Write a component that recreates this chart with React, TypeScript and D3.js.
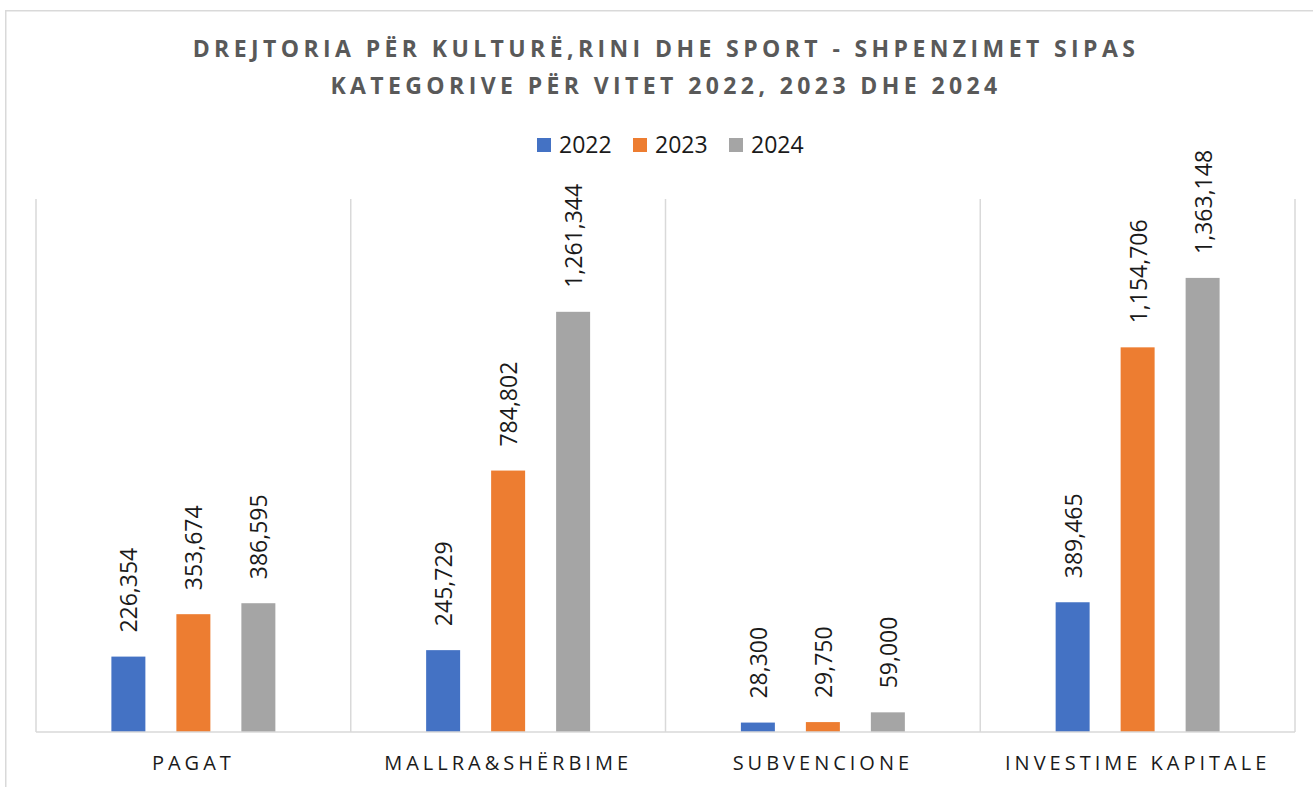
import React from "react";
import * as d3 from "d3";

const categories = ["PAGAT", "MALLRA&SHËRBIME", "SUBVENCIONE", "INVESTIME KAPITALE"];
const seriesNames = ["2022", "2023", "2024"];
const values2022 = [226354, 245729, 28300, 389465];
const values2023 = [353674, 784802, 29750, 1154706];
const values2024 = [386595, 1261344, 59000, 1363148];
const seriesColors = ["#4472C4", "#ED7D31", "#A5A5A5"];
const titleLines = [
  "DREJTORIA PËR KULTURË,RINI DHE SPORT - SHPENZIMET SIPAS",
  "KATEGORIVE PËR VITET 2022, 2023 DHE 2024",
];
const yMax = 1600000;

const W = 1313;
const H = 787;

export default function App() {
  const seriesValues = [values2022, values2023, values2024];
  const plotLeft = 36;
  const plotRight = 1295;
  const plotTop = 199;
  const plotBottom = 732;

  const x0 = d3.scaleBand<string>().domain(categories).range([plotLeft, plotRight]).paddingInner(0).paddingOuter(0);
  const x1 = d3
    .scaleBand<string>()
    .domain(seriesNames)
    .range([0, x0.bandwidth()])
    .paddingInner(0.477)
    .paddingOuter(1.16);
  const y = d3.scaleLinear().domain([0, yMax]).range([plotBottom, plotTop]);
  const fmt = d3.format(",");

  const gridXs = [...categories.map((c) => x0(c) as number), plotRight];

  const legendItems = [
    { sq: 537, tx: 559 },
    { sq: 633, tx: 655 },
    { sq: 729, tx: 751 },
  ];

  return (
    <svg
      width={W}
      height={H}
      style={{ position: "absolute", left: 0, top: 0, background: "#fff" }}
      fontFamily="'Open Sans', sans-serif"
    >
      <rect x={0} y={0} width={W} height={H} fill="#fff" />
      <rect x={5.75} y={10.75} width={W + 20} height={H + 20} fill="#fff" stroke="#d9d9d9" strokeWidth={1.5} />

      {titleLines.map((t, i) => (
        <text
          key={i}
          x={666}
          y={57 + i * 37}
          textAnchor="middle"
          fontSize={23}
          fontWeight={700}
          fill="#595959"
          letterSpacing={4.4}
        >
          {t}
        </text>
      ))}

      {seriesNames.map((s, i) => (
        <g key={s}>
          <rect x={legendItems[i].sq} y={138} width={14} height={14} fill={seriesColors[i]} />
          <text x={legendItems[i].tx} y={153} fontSize={23} fill="#1a1a1a">
            {s}
          </text>
        </g>
      ))}

      {gridXs.map((gx, i) => (
        <line key={i} x1={gx} x2={gx} y1={plotTop} y2={plotBottom} stroke="#d9d9d9" strokeWidth={1.5} />
      ))}

      {categories.map((c, ci) => (
        <g key={c} transform={`translate(${x0(c)},0)`}>
          {seriesNames.map((s, si) => {
            const v = seriesValues[si][ci];
            const bx = x1(s) as number;
            const bw = x1.bandwidth();
            const top = y(v);
            const cx = bx + bw / 2;
            return (
              <g key={s}>
                <rect x={bx} y={top} width={bw} height={plotBottom - top} fill={seriesColors[si]} />
                <text
                  transform={`translate(${cx},${top - 24}) rotate(-90)`}
                  textAnchor="start"
                  dominantBaseline="central"
                  fontSize={23}
                  fill="#1a1a1a"
                >
                  {fmt(v)}
                </text>
              </g>
            );
          })}
        </g>
      ))}

      <line x1={plotLeft} x2={plotRight} y1={plotBottom} y2={plotBottom} stroke="#d9d9d9" strokeWidth={1.5} />

      {categories.map((c) => (
        <text
          key={c}
          x={(x0(c) as number) + x0.bandwidth() / 2}
          y={770}
          textAnchor="middle"
          fontSize={20}
          fill="#1a1a1a"
          letterSpacing={4}
        >
          {c}
        </text>
      ))}
    </svg>
  );
}
